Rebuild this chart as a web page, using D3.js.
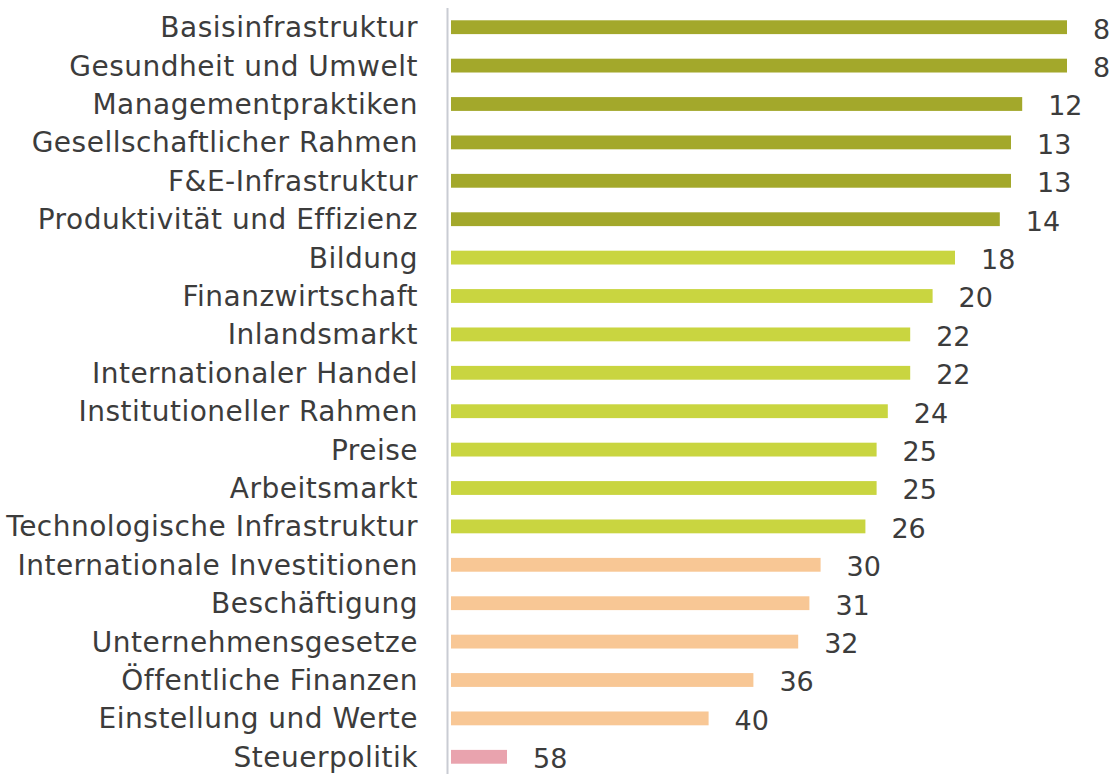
<!DOCTYPE html>
<html>
<head>
<meta charset="utf-8">
<script src="https://cdn.jsdelivr.net/npm/d3@7"></script>
<style>
  body { margin: 0; background: #fff; }
  text { font-family: "DejaVu Sans", sans-serif; fill: #3c3c3c; }
</style>
</head>
<body>
<script>
// Rang der Faktoren (kleiner = besser)
const categories = ["Basisinfrastruktur", "Gesundheit und Umwelt", "Managementpraktiken",
  "Gesellschaftlicher Rahmen", "F&E-Infrastruktur", "Produktivität und Effizienz",
  "Bildung", "Finanzwirtschaft", "Inlandsmarkt", "Internationaler Handel",
  "Institutioneller Rahmen", "Preise", "Arbeitsmarkt", "Technologische Infrastruktur",
  "Internationale Investitionen", "Beschäftigung", "Unternehmensgesetze",
  "Öffentliche Finanzen", "Einstellung und Werte", "Steuerpolitik"];
const ranks = [8, 8, 12, 13, 13, 14, 18, 20, 22, 22, 24, 25, 25, 26, 30, 31, 32, 36, 40, 58];
const groups = ["top", "top", "top", "top", "top", "top", "mid", "mid", "mid", "mid",
  "mid", "mid", "mid", "mid", "low", "low", "low", "low", "low", "bottom"];

const groupColors = {top: "#a3a82b", mid: "#c9d540", low: "#f8c795", bottom: "#e9a3ae"};

const width = 1111, height = 774;

const svg = d3.select("body").append("svg")
    .attr("width", width)
    .attr("height", height);

const y = d3.scaleBand()
    .domain(categories)
    .range([8, 776])
    .paddingInner(0.64)
    .paddingOuter(0.32);

// längere Balken = besserer Rang
const x = d3.scaleLinear()
    .domain([63, 8])
    .range([451, 1067]);

const rows = categories.map((c, i) => ({name: c, rank: ranks[i], group: groups[i]}));

svg.append("line")
    .attr("x1", 447.5).attr("x2", 447.5)
    .attr("y1", 8).attr("y2", height)
    .attr("stroke", "#c9ccd3")
    .attr("stroke-width", 2);

svg.append("g")
    .selectAll("rect")
    .data(rows)
    .join("rect")
    .attr("x", x(63))
    .attr("y", d => y(d.name))
    .attr("width", d => x(d.rank) - x(63))
    .attr("height", y.bandwidth())
    .attr("fill", d => groupColors[d.group]);

svg.append("g")
    .selectAll("text")
    .data(rows)
    .join("text")
    .attr("x", 418)
    .attr("y", d => y(d.name) + y.bandwidth() / 2)
    .attr("dy", "0.36em")
    .attr("text-anchor", "end")
    .style("font-size", "28px")
    .style("letter-spacing", "0.5px")
    .text(d => d.name);

svg.append("g")
    .selectAll("text")
    .data(rows)
    .join("text")
    .attr("x", d => x(d.rank) + 26)
    .attr("y", d => y(d.name) + y.bandwidth() / 2 + 2)
    .attr("dy", "0.35em")
    .style("font-size", "27px")
    .text(d => d.rank);
</script>
</body>
</html>
